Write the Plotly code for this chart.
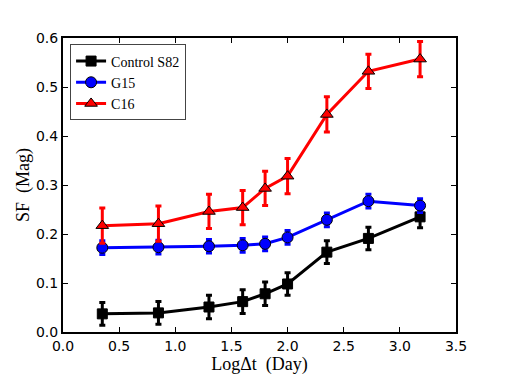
import plotly.graph_objects as go

log_dt = [0.35, 0.85, 1.30, 1.60, 1.80, 2.00, 2.35, 2.72, 3.18]

control_sf = [0.037, 0.039, 0.051, 0.062, 0.078, 0.098, 0.163, 0.191, 0.235]
control_err = [0.023, 0.023, 0.024, 0.024, 0.024, 0.023, 0.023, 0.023, 0.022]

g15_sf = [0.172, 0.173, 0.175, 0.177, 0.180, 0.193, 0.229, 0.267, 0.258]
g15_err = [0.014, 0.014, 0.014, 0.014, 0.014, 0.014, 0.014, 0.014, 0.014]

c16_sf = [0.217, 0.221, 0.246, 0.254, 0.293, 0.318, 0.444, 0.532, 0.557]
c16_err = [0.036, 0.036, 0.035, 0.035, 0.035, 0.036, 0.036, 0.035, 0.036]

series = [
    ("Control S82", control_sf, control_err, "black", "square", 10),
    ("G15", g15_sf, g15_err, "blue", "circle", 11),
    ("C16", c16_sf, c16_err, "red", "triangle-up", 11),
]

fig = go.Figure()
for name, ys, errs, color, symbol, size in series:
    fig.add_trace(go.Scatter(
        x=log_dt,
        y=ys,
        name=name,
        mode="lines+markers",
        line=dict(color=color, width=3),
        marker=dict(symbol=symbol, size=size, color=color,
                    line=dict(color="black", width=1)),
        error_y=dict(type="data", array=errs, color=color,
                     thickness=3, width=3),
    ))

axis_common = dict(
    showline=True,
    linecolor="black",
    linewidth=2,
    mirror="allticks",
    ticks="inside",
    ticklen=5,
    tickcolor="black",
    showgrid=False,
    zeroline=False,
    tickfont=dict(family="DejaVu Sans", size=14, color="black"),
)

# the page body adds an 8px offset, so margins are shifted to compensate
fig.update_layout(
    width=507,
    height=380,
    margin=dict(l=55, r=59, t=30, b=56),
    paper_bgcolor="white",
    plot_bgcolor="white",
    font=dict(family="Liberation Serif", color="black"),
    showlegend=True,
    legend=dict(
        x=0.018, y=0.978, xanchor="left", yanchor="top",
        bgcolor="white", bordercolor="#444", borderwidth=1,
        font=dict(family="Liberation Serif", size=14, color="black"),
        itemwidth=30,
        tracegroupgap=0,
    ),
    xaxis=dict(
        range=[0, 3.5],
        tickvals=[0, 0.5, 1.0, 1.5, 2.0, 2.5, 3.0, 3.5],
        ticktext=["0.0", "0.5", "1.0", "1.5", "2.0", "2.5", "3.0", "3.5"],
        title=dict(text="LogΔt  (Day)", standoff=4,
                   font=dict(family="Liberation Serif", size=18, color="black")),
        **axis_common,
    ),
    yaxis=dict(
        range=[0, 0.6],
        tickvals=[0, 0.1, 0.2, 0.3, 0.4, 0.5, 0.6],
        ticktext=["0.0", "0.1", "0.2", "0.3", "0.4", "0.5", "0.6"],
        title=dict(text="SF  (Mag)", standoff=2,
                   font=dict(family="Liberation Serif", size=18, color="black")),
        **axis_common,
    ),
)

fig.write_html("out.html")
